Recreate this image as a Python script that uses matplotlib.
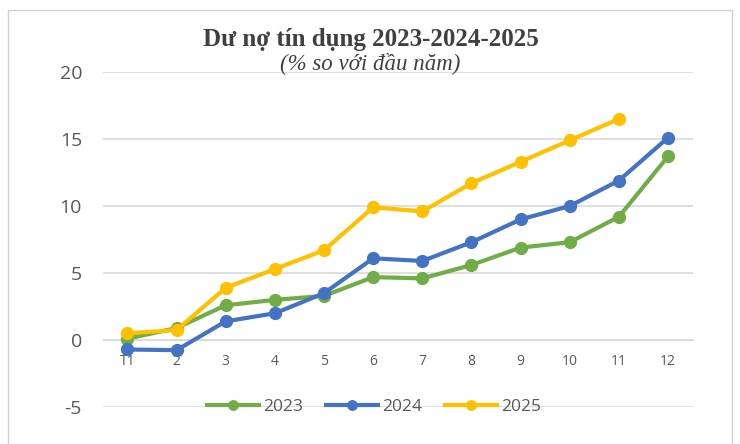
import matplotlib
matplotlib.use('Agg')
import matplotlib.pyplot as plt
from matplotlib.patches import Rectangle

plt.rcParams['axes.unicode_minus'] = False
plt.rcParams['font.family'] = ['Open Sans', 'DejaVu Sans']

# Du lieu doc tu hinh
thang = ['T1', '2', '3', '4', '5', '6', '7', '8', '9', '10', '11', '12']
y2023 = [0.1, 0.9, 2.6, 3.0, 3.3, 4.7, 4.6, 5.6, 6.9, 7.3, 9.2, 13.7]
y2024 = [-0.7, -0.75, 1.4, 2.0, 3.5, 6.1, 5.9, 7.3, 9.0, 10.0, 11.9, 15.1]
y2025 = [0.5, 0.75, 3.9, 5.3, 6.7, 9.9, 9.6, 11.7, 13.3, 14.9, 16.5]

fig = plt.figure(figsize=(7.4, 4.44), dpi=100)
ax = fig.add_axes([0.139, 0.083, 0.797, 0.755])

x = list(range(1, 13))
ax.plot(x, y2023, color='#70ad47', lw=3, marker='o', ms=8.5, label='2023', zorder=3)
ax.plot(x, y2024, color='#4472c4', lw=3, marker='o', ms=8.5, label='2024', zorder=4)
ax.plot(x[:len(y2025)], y2025, color='#ffc000', lw=3, marker='o', ms=8.5, label='2025', zorder=5)

ax.set_xlim(0.5, 12.5)
ax.set_ylim(-5, 20)
ax.set_yticks([-5, 0, 5, 10, 15, 20])
ax.set_xticks(x)
ax.set_xticklabels(thang)
ax.grid(axis='y', color='#d9d9d9', lw=1.2)
ax.set_axisbelow(True)
for s in ['top', 'right', 'left']:
    ax.spines[s].set_visible(False)
ax.spines['bottom'].set_position(('data', 0))
ax.spines['bottom'].set_color('#d9d9d9')
ax.tick_params(axis='x', length=0, pad=10, labelsize=10, labelcolor='#595959')
ax.tick_params(axis='y', length=0, pad=15, labelsize=14, labelcolor='#595959')

leg = ax.legend(loc='center', bbox_to_anchor=(0.46, 0.0), ncol=3, frameon=False,
                fontsize=12.5, handlelength=3.0, columnspacing=1.3, handletextpad=0.25,
                markerscale=0.8)
for t in leg.get_texts():
    t.set_color('#595959')

fig.text(0.501, 0.912, 'Dư nợ tín dụng 2023-2024-2025', ha='center', va='center',
         family='Liberation Serif', fontweight='bold', fontsize=18, color='#404040')
fig.text(0.5, 0.857, '(% so với đầu năm)', ha='center', va='center',
         family='Liberation Serif', style='italic', fontsize=16.5, color='#404040')

# khung ngoai
fig.patches.append(Rectangle((8 / 740, -0.01), 724 / 740, 1 - 10 / 444 + 0.01,
                             transform=fig.transFigure, fill=False,
                             edgecolor='#d0d0d0', lw=1))

fig.savefig('out.png', dpi=100)
